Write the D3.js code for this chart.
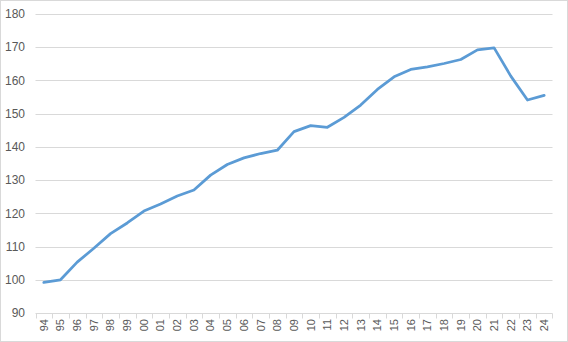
<!DOCTYPE html>
<html>
<head>
<meta charset="utf-8">
<script src="https://cdn.jsdelivr.net/npm/d3@7"></script>
<style>
  body { margin: 0; background: #fff; }
  svg { display: block; font-family: "Liberation Sans", Arial, sans-serif; }
</style>
</head>
<body>
<svg id="chart" width="568" height="342"></svg>
<script>
// years shown as two-digit labels
const years = ["94","95","96","97","98","99","00","01","02","03","04","05","06","07","08","09",
  "10","11","12","13","14","15","16","17","18","19","20","21","22","23","24"];
const values = [99.2, 100.0, 105.3, 109.5, 113.9, 117.1, 120.7, 122.8, 125.2, 127.0, 131.5,
  134.7, 136.7, 138.0, 139.0, 144.6, 146.4, 145.9, 148.9, 152.6, 157.3, 161.1, 163.3,
  164.1, 165.1, 166.3, 169.2, 169.8, 161.3, 154.1, 155.5];
const yTicks = [90, 100, 110, 120, 130, 140, 150, 160, 170, 180];

const svg = d3.select("#chart");
const W = 568, H = 342;
const plotLeft = 35.5, plotRight = 552.5, plotTop = 14, plotBottom = 313;

svg.append("rect")
  .attr("x", 0.5).attr("y", 0.5)
  .attr("width", W - 1).attr("height", H - 1)
  .attr("fill", "#fff").attr("stroke", "#d9d9d9");

const x = d3.scaleBand().domain(years).range([plotLeft, plotRight]);
const y = d3.scaleLinear().domain([90, 180]).range([plotBottom, plotTop]);

// gridlines
svg.selectAll("line.grid")
  .data(yTicks.filter(t => t > 90))
  .enter().append("line")
  .attr("x1", plotLeft).attr("x2", plotRight)
  .attr("y1", d => Math.round(y(d)) + 0.5)
  .attr("y2", d => Math.round(y(d)) + 0.5)
  .attr("stroke", "#d9d9d9");

// y labels
svg.selectAll("text.ylab")
  .data(yTicks)
  .enter().append("text")
  .attr("x", 25)
  .attr("y", d => y(d))
  .attr("dy", "0.35em")
  .attr("text-anchor", "end")
  .attr("font-size", "12px")
  .attr("fill", "#595959")
  .text(d => d);

// x axis line + ticks
const axisY = Math.round(y(90)) + 0.5;
svg.append("line")
  .attr("x1", plotLeft).attr("x2", plotRight)
  .attr("y1", axisY).attr("y2", axisY)
  .attr("stroke", "#d9d9d9");

const bounds = years.map(d => x(d)).concat([x(years[years.length - 1]) + x.bandwidth()]);
svg.selectAll("line.tick")
  .data(bounds)
  .enter().append("line")
  .attr("x1", d => Math.round(d) + 0.5).attr("x2", d => Math.round(d) + 0.5)
  .attr("y1", axisY).attr("y2", axisY + 5)
  .attr("stroke", "#d9d9d9");

svg.selectAll("text.xlab")
  .data(years)
  .enter().append("text")
  .attr("transform", d => `translate(${x(d) + x.bandwidth() / 2},319) rotate(-90)`)
  .attr("dy", "0.35em")
  .attr("text-anchor", "end")
  .attr("font-size", "11px")
  .attr("fill", "#595959")
  .text(d => d);

// the line, straight segments like the original
const line = d3.line()
  .x((d, i) => x(years[i]) + x.bandwidth() / 2)
  .y(d => y(d));

svg.append("path")
  .datum(values)
  .attr("d", line)
  .attr("fill", "none")
  .attr("stroke", "#5b9bd5")
  .attr("stroke-width", 2.75)
  .attr("stroke-linejoin", "round")
  .attr("stroke-linecap", "round");
</script>
</body>
</html>
